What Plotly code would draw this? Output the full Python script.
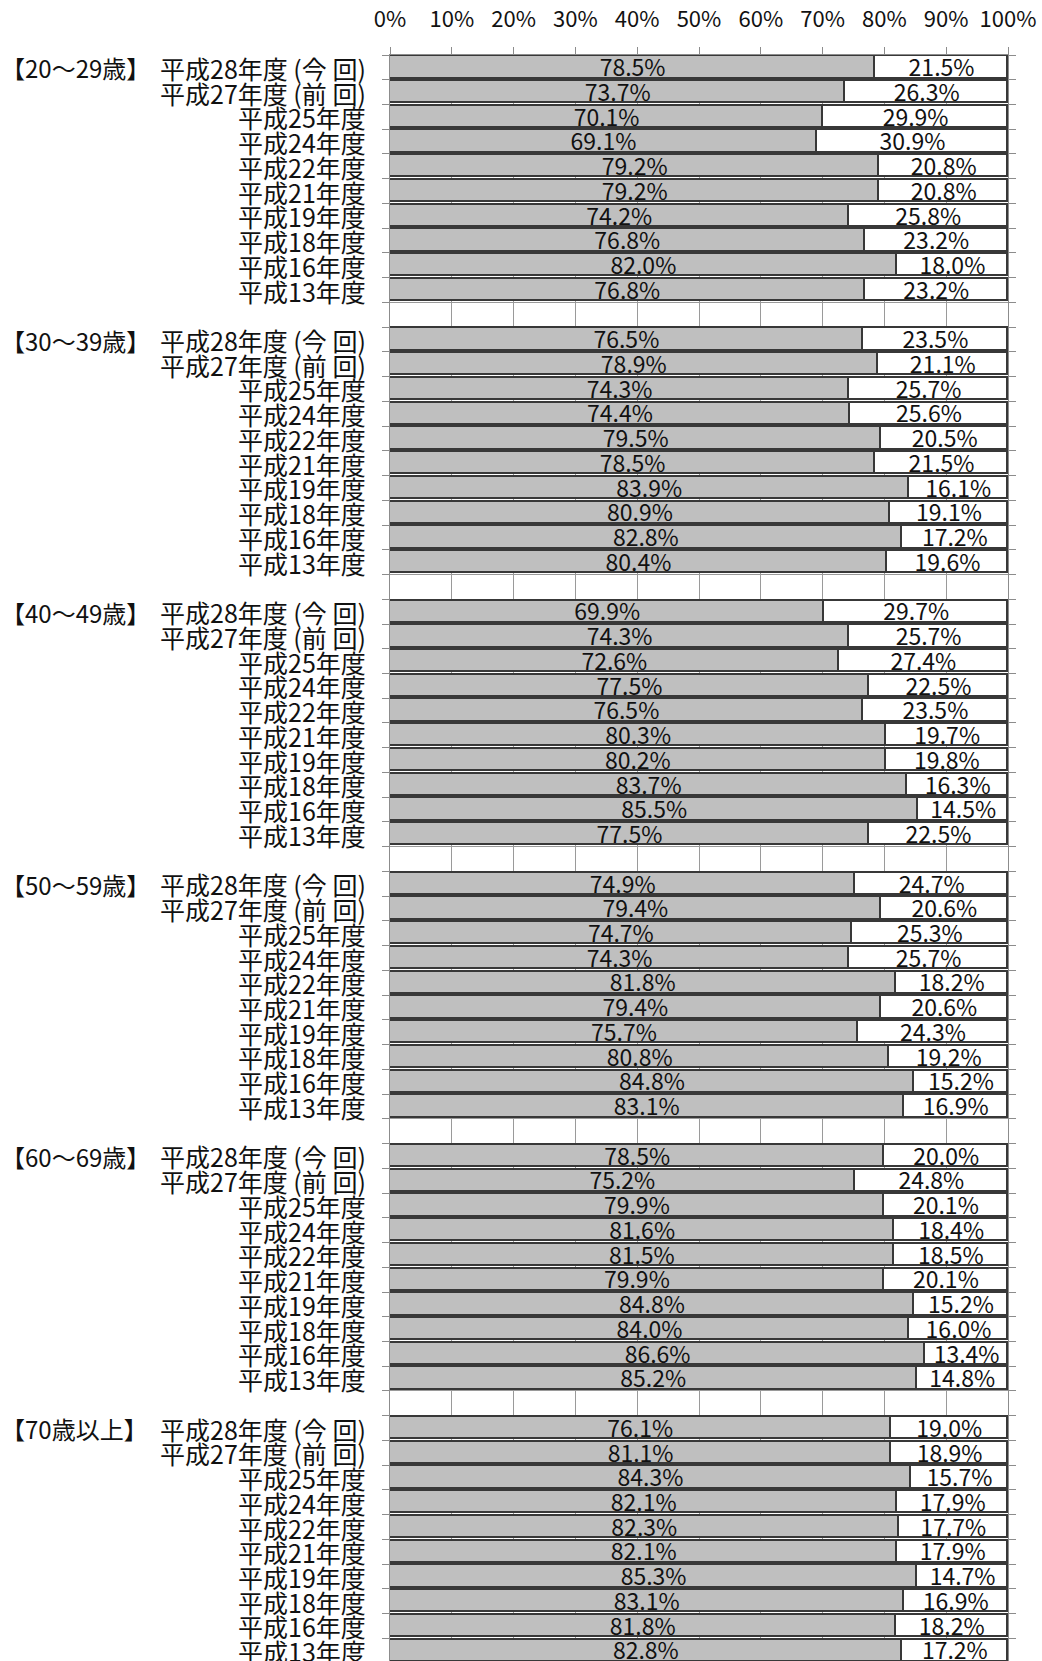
import plotly.graph_objects as go

# ---------------- data ----------------
groups = ["【20～29歳】", "【30～39歳】", "【40～49歳】", "【50～59歳】", "【60～69歳】", "【70歳以上】"]
years = ["平成28年度 (今 回)", "平成27年度 (前 回)", "平成25年度", "平成24年度", "平成22年度",
         "平成21年度", "平成19年度", "平成18年度", "平成16年度", "平成13年度"]

gray_20s = [78.5, 73.7, 70.1, 69.1, 79.2, 79.2, 74.2, 76.8, 82.0, 76.8]
white_20s = [21.5, 26.3, 29.9, 30.9, 20.8, 20.8, 25.8, 23.2, 18.0, 23.2]

gray_30s = [76.5, 78.9, 74.3, 74.4, 79.5, 78.5, 83.9, 80.9, 82.8, 80.4]
white_30s = [23.5, 21.1, 25.7, 25.6, 20.5, 21.5, 16.1, 19.1, 17.2, 19.6]

gray_40s = [69.9, 74.3, 72.6, 77.5, 76.5, 80.3, 80.2, 83.7, 85.5, 77.5]
white_40s = [29.7, 25.7, 27.4, 22.5, 23.5, 19.7, 19.8, 16.3, 14.5, 22.5]

gray_50s = [74.9, 79.4, 74.7, 74.3, 81.8, 79.4, 75.7, 80.8, 84.8, 83.1]
white_50s = [24.7, 20.6, 25.3, 25.7, 18.2, 20.6, 24.3, 19.2, 15.2, 16.9]

gray_60s = [78.5, 75.2, 79.9, 81.6, 81.5, 79.9, 84.8, 84.0, 86.6, 85.2]
white_60s = [20.0, 24.8, 20.1, 18.4, 18.5, 20.1, 15.2, 16.0, 13.4, 14.8]

gray_70p = [76.1, 81.1, 84.3, 82.1, 82.3, 82.1, 85.3, 83.1, 81.8, 82.8]
white_70p = [19.0, 18.9, 15.7, 17.9, 17.7, 17.9, 14.7, 16.9, 18.2, 17.2]

x_tick_vals = [0, 10, 20, 30, 40, 50, 60, 70, 80, 90, 100]
x_tick_text = ["0%", "10%", "20%", "30%", "40%", "50%", "60%", "70%", "80%", "90%", "100%"]

gray_all = [gray_20s, gray_30s, gray_40s, gray_50s, gray_60s, gray_70p]
white_all = [white_20s, white_30s, white_40s, white_50s, white_60s, white_70p]

# ---------------- layout constants ----------------
W_FIG, H_FIG = 1042, 1661
M_L, M_R, M_T, M_B = 390, 34, 55, 0
PLOT_W = W_FIG - M_L - M_R
ROWS_PER_GROUP = 11  # 10 years + one blank row
ROW_PX = 24.74
n_rows = len(groups) * ROWS_PER_GROUP - 1
plot_h = H_FIG - M_T - M_B
y_bottom = -0.5 + plot_h / ROW_PX

FONT = "Noto Sans CJK JP"

ys, gray_len, white_len, gray_lab, white_lab = [], [], [], [], []
for g in range(len(groups)):
    for k in range(len(years)):
        ys.append(g * ROWS_PER_GROUP + k)
        gv = gray_all[g][k]
        wv = white_all[g][k]
        gray_len.append(100 - wv)
        white_len.append(wv)
        gray_lab.append(f"{gv:.1f}%")
        white_lab.append(f"{wv:.1f}%")

fig = go.Figure()
fig.add_trace(go.Bar(
    y=ys, x=gray_len, orientation="h", width=0.9,
    marker=dict(color="#bfbfbf", line=dict(color="#383838", width=1.6)),
    hoverinfo="skip", showlegend=False,
))
fig.add_trace(go.Bar(
    y=ys, x=white_len, orientation="h", width=0.9,
    marker=dict(color="#ffffff", line=dict(color="#383838", width=1.6)),
    hoverinfo="skip", showlegend=False,
))

TEXT_DY = 0.12
fig.add_trace(go.Scatter(
    x=[v / 2 for v in gray_len], y=[y + TEXT_DY for y in ys],
    mode="text", text=gray_lab, textposition="middle center",
    textfont=dict(family=FONT, size=23, color="#111111"),
    hoverinfo="skip", showlegend=False, cliponaxis=False,
))
fig.add_trace(go.Scatter(
    x=[g + w / 2 for g, w in zip(gray_len, white_len)], y=[y + TEXT_DY for y in ys],
    mode="text", text=white_lab, textposition="middle center",
    textfont=dict(family=FONT, size=23, color="#111111"),
    hoverinfo="skip", showlegend=False, cliponaxis=False,
))

annotations = []
lab_x = (368 - M_L) / PLOT_W
grp_x = (-1 - M_L) / PLOT_W
for g, gname in enumerate(groups):
    for k, yname in enumerate(years):
        yy = g * ROWS_PER_GROUP + k
        annotations.append(dict(
            x=lab_x, y=yy + 0.02, xref="paper", yref="y", text=yname,
            showarrow=False, xanchor="right", yanchor="middle",
            font=dict(family=FONT, size=25, color="#111111"),
        ))
    annotations.append(dict(
        x=grp_x, y=g * ROWS_PER_GROUP + 0.02, xref="paper", yref="y", text=gname,
        showarrow=False, xanchor="left", yanchor="middle",
        font=dict(family=FONT, size=24, color="#111111"),
    ))

fig.update_layout(
    width=W_FIG, height=H_FIG,
    margin=dict(l=M_L, r=M_R, t=M_T, b=M_B, pad=0),
    barmode="stack", bargap=0,
    plot_bgcolor="#ffffff", paper_bgcolor="#ffffff",
    annotations=annotations,
    xaxis=dict(
        side="top", range=[0, 100], tickvals=x_tick_vals, ticktext=x_tick_text,
        ticks="outside", ticklen=7, tickcolor="#8c8c8c", tickwidth=1,
        showline=True, linecolor="#8c8c8c", linewidth=1,
        showgrid=True, gridcolor="#9a9a9a", gridwidth=1, zeroline=False,
        tickfont=dict(family=FONT, size=22, color="#111111"),
        ticklabelstandoff=11, fixedrange=True,
    ),
    yaxis=dict(
        range=[y_bottom, -0.5], tickvals=[i - 0.5 for i in range(n_rows + 2)],
        showticklabels=False, ticks="outside", ticklen=7, tickcolor="#8c8c8c",
        showline=True, linecolor="#8c8c8c", linewidth=1, mirror="ticks",
        showgrid=True, gridcolor="#9a9a9a", gridwidth=1, zeroline=False,
        fixedrange=True,
    ),
)

fig.write_html("out.html")
